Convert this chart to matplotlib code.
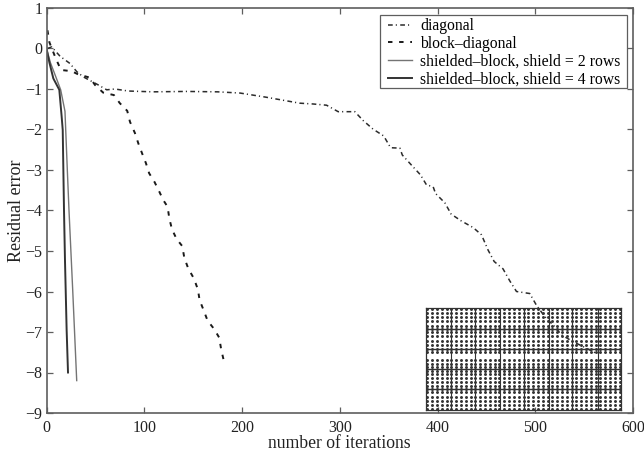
import matplotlib
matplotlib.use("Agg")
import matplotlib.pyplot as plt
from matplotlib.patches import Rectangle

plt.rcParams['font.family'] = ['Liberation Serif', 'DejaVu Serif']
plt.rcParams['lines.scale_dashes'] = False
plt.rcParams['axes.unicode_minus'] = True

W, H = 644, 454

diag_x = [1, 5.3, 13.8, 24, 30.9, 37.6, 53, 61.6, 70, 83.7, 109, 143, 175, 198, 224, 259, 272.8, 286.5,
          298.4, 315.4, 324, 334, 345, 352, 361.5, 364, 373.4, 382.6, 388.8, 395.5, 398, 407.5, 414,
          424.5, 436.4, 445, 451.8, 458, 467, 474, 480.8, 494.4, 501, 509.7, 520, 526.8, 538.7, 552.4, 562.6]
diag_y = [0.0, 0.04, -0.19, -0.37, -0.57, -0.70, -0.90, -1.02, -1.0, -1.05, -1.07, -1.06, -1.07, -1.1, -1.2, -1.35, -1.37, -1.40,
          -1.56, -1.56, -1.78, -1.99, -2.16, -2.45, -2.46, -2.63, -2.88, -3.12, -3.37, -3.41, -3.58, -3.81, -4.09,
          -4.26, -4.42, -4.60, -4.98, -5.26, -5.44, -5.74, -6.0, -6.05, -6.33, -6.62, -6.87, -7.07, -7.24, -7.40, -7.53]

block_x = [1, 3, 9.4, 14.8, 25.7, 32.5, 44.5, 49.6, 58, 69, 75, 82.6, 85.4, 90.5, 93.9, 97.8, 101.7, 105, 110.6,
           115.3, 119.4, 123.9, 125.6, 128.3, 133, 138.9, 141, 145, 150.8, 154.9, 156.6, 160.7, 164.8,
           171.6, 176.7, 178.7, 181.2, 182]
block_y = [0.45, 0.15, -0.24, -0.53, -0.56, -0.64, -0.72, -0.90, -1.09, -1.15, -1.35, -1.54, -1.81, -2.09, -2.34, -2.59, -2.83, -3.08, -3.30,
           -3.53, -3.74, -3.91, -4.19, -4.46, -4.70, -4.88, -5.17, -5.43, -5.68, -5.95, -6.21, -6.46, -6.72,
           -6.93, -7.14, -7.43, -7.69, -7.8]

sh2_x = [0, 4, 9.7, 14.5, 18.9, 21.3, 23, 26.8, 30.9]
sh2_y = [0.0, -0.35, -0.71, -1.02, -1.55, -3.0, -3.99, -5.96, -8.2]

sh4_x = [0, 3, 7, 13.1, 15.5, 16.6, 17.9, 18.9, 20.6, 22]
sh4_y = [0.0, -0.35, -0.74, -1.02, -1.68, -2.01, -3.99, -5.22, -6.95, -8.0]

x_ticks = [0, 100, 200, 300, 400, 500, 600]
y_ticks = [1, 0, -1, -2, -3, -4, -5, -6, -7, -8, -9]

# sparsity pattern of the inset (cell indices)
inset_cols = list(range(41))
inset_rows = [0, 1, 2, 3, 4, 4.8, 5.6, 6.6, 7.6, 8.6, 9.6, 10.4, 12.3, 13.2, 14.0, 14.8, 15.6,
              16.6, 17.6, 18.4, 19.2, 20, 21, 22, 23, 24]
inset_vlines = [5, 10, 15.2, 20, 25.3, 30.2, 35.5]
inset_hlines = [4.8, 9.6, 14.4, 19.2]

ink = '#2b2b2b'
spine = '#5e5e5e'

fig = plt.figure(figsize=(W / 100, H / 100), dpi=100)
ax = fig.add_axes([46.5 / W, 1 - 413 / H, 586.5 / W, 405 / H])
ax.set_xlim(0, 600)
ax.set_ylim(-9, 1)

ax.plot(diag_x, diag_y, color=ink, lw=1.1, dashes=(3.4, 2.2, 0.8, 2.4), label='diagonal')
ax.plot(block_x, block_y, color='#1a1a1a', lw=1.4, dashes=(3.2, 4.8), label='block–diagonal')
ax.plot(sh2_x, sh2_y, color='#747474', lw=1.0, label='shielded–block, shield = 2 rows')
ax.plot(sh4_x, sh4_y, color='#333333', lw=1.4, label='shielded–block, shield = 4 rows')

ax.set_xticks(x_ticks)
ax.set_yticks(y_ticks)
ax.tick_params(direction='in', top=True, right=True, length=4.5, width=0.9, color=spine,
               labelsize=11.5, labelcolor='#222222', pad=3)
ax.tick_params(axis='x', pad=5)
for s in ax.spines.values():
    s.set_color(spine)
    s.set_linewidth(1.2)

ax.set_xlabel('number of iterations', fontsize=12.7, color='#222222', labelpad=-1)
ax.set_ylabel('Residual error', fontsize=13, color='#222222', labelpad=0)

# legend frame in pixel position, entries laid out over it
frame = Rectangle((380 / W, 1 - 88 / H), 247 / W, 73 / H, transform=fig.transFigure,
                  facecolor='white', edgecolor=spine, linewidth=0.9, zorder=4)
ax.add_patch(frame)
leg = ax.legend(loc='upper left', bbox_to_anchor=((388 - 46.5) / 586.5, 1 - 10 / 405),
                fontsize=11.3, frameon=False, borderaxespad=0, borderpad=0,
                labelspacing=0.12, handlelength=1.55, handletextpad=0.5)
leg.set_zorder(5)

# inset sparsity picture
ins = fig.add_axes([426 / W, 1 - 410 / H, 195 / W, 102 / H])
ins.set_xlim(-0.3, 40.3)
ins.set_ylim(24.2, -0.2)
ins.patch.set_alpha(0.0)
ins.set_xticks([])
ins.set_yticks([])
for s in ins.spines.values():
    s.set_color('#333333')
    s.set_linewidth(0.9)
px = [c for r in inset_rows for c in inset_cols]
py = [r for r in inset_rows for c in inset_cols]
dots = ins.scatter(px, py, s=4.5, color='#333333', linewidths=0, marker='o')
dots.set_snap(False)
for v in inset_vlines:
    ins.axvline(v, color='#333333', lw=0.8)
for h in inset_hlines:
    ins.axhline(h, color='#333333', lw=1.0)

fig.savefig('out.png', dpi=100)
